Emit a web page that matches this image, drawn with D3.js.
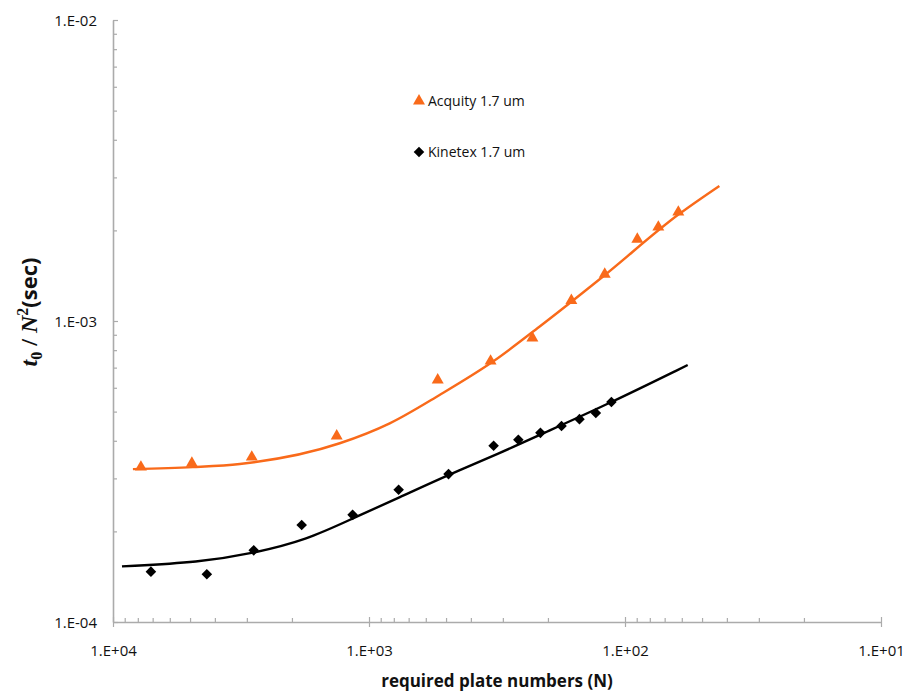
<!DOCTYPE html>
<html>
<head>
<meta charset="utf-8">
<script src="https://cdn.jsdelivr.net/npm/d3@7"></script>
<style>
  html, body { margin: 0; padding: 0; background: #fff; }
  svg { display: block; }
</style>
</head>
<body>
<svg id="chart" width="906" height="693"></svg>
<script>
// ---- data ----
const xTickValues = [1e4, 1e3, 1e2, 1e1];
const xTickLabels = ["1.E+04", "1.E+03", "1.E+02", "1.E+01"];
const yTickValues = [1e-4, 1e-3, 1e-2];
const yTickLabels = ["1.E-04", "1.E-03", "1.E-02"];

// Acquity 1.7 um measured points: N, t0/N^2
const acquityN = [7780, 4920, 2870, 1337, 539, 335, 230, 162, 120, 89.5, 74.1, 61.9];
const acquityY = [3.27e-4, 3.37e-4, 3.53e-4, 4.15e-4, 6.37e-4, 7.36e-4, 8.78e-4, 1.17e-3, 1.43e-3, 1.87e-3, 2.05e-3, 2.30e-3];
// Acquity fitted curve
const acquityFitN = [8360, 4875, 3196, 1301, 830, 530, 329, 216, 122.5, 61.3, 42.8];
const acquityFitY = [3.22e-4, 3.27e-4, 3.35e-4, 3.925e-4, 4.571e-4, 5.68e-4, 7.32e-4, 9.57e-4, 1.40e-3, 2.27e-3, 2.81e-3];

// Kinetex 1.7 um measured points
const kinetexN = [7110, 4300, 2820, 1832, 1159, 766, 489, 326, 261, 214, 177, 150.6, 130, 113];
const kinetexY = [1.47e-4, 1.44e-4, 1.73e-4, 2.10e-4, 2.27e-4, 2.75e-4, 3.10e-4, 3.85e-4, 4.03e-4, 4.25e-4, 4.48e-4, 4.72e-4, 4.95e-4, 5.38e-4];
// Kinetex fitted curve
const kinetexFitN = [9225, 4580, 2843, 1755, 1155, 759, 491.8, 309, 215.8, 113.3, 56.9];
const kinetexFitY = [1.53e-4, 1.58e-4, 1.69e-4, 1.873e-4, 2.211e-4, 2.596e-4, 3.079e-4, 3.635e-4, 4.18e-4, 5.354e-4, 7.14e-4];

const seriesNames = ["Acquity 1.7 um", "Kinetex 1.7 um"];
const xTitle = "required plate numbers (N)";

// ---- layout ----
const svg = d3.select("#chart");
const mLeft = 113, mRight = 881, mTop = 20, mBottom = 622;
const orange = "#F96A1A";
const axisColor = "#ababab";
const font = "'Open Sans', 'Noto Sans', sans-serif";

const x = d3.scaleLog().domain([1e4, 10]).range([mLeft, mRight]);
const y = d3.scaleLog().domain([1e-4, 1e-2]).range([mBottom, mTop]);

function minorTicks(lo, hi) {
  const out = [];
  for (let p = Math.round(Math.log10(lo)); p < Math.round(Math.log10(hi)); p++) {
    for (let k = 2; k <= 9; k++) out.push(k * Math.pow(10, p));
  }
  return out;
}

// x-axis: minor ticks (inward, up)
const gxMinor = svg.append("g").attr("transform", `translate(0,${mBottom})`)
  .call(d3.axisBottom(x).tickValues(minorTicks(10, 1e4)).tickSize(-4).tickFormat(""));
// x-axis: major ticks crossing
const gx = svg.append("g").attr("transform", `translate(0,${mBottom})`)
  .call(d3.axisBottom(x).tickValues(xTickValues).tickSize(5).tickSizeOuter(0)
    .tickFormat((d, i) => xTickLabels[i]));
gx.selectAll(".tick line").attr("y1", -5);
gx.selectAll(".tick text").attr("dy", "0").attr("y", 34)
  .attr("font-family", font).attr("font-size", 15).attr("fill", "#111");

// y-axis minor ticks (inward, right)
const gyMinor = svg.append("g").attr("transform", `translate(${mLeft},0)`)
  .call(d3.axisLeft(y).tickValues(minorTicks(1e-4, 1e-2)).tickSize(-4).tickFormat(""));
const gy = svg.append("g").attr("transform", `translate(${mLeft},0)`)
  .call(d3.axisLeft(y).tickValues(yTickValues).tickSize(-5).tickSizeOuter(0)
    .tickFormat((d, i) => yTickLabels[i]));
gy.selectAll(".tick text").attr("x", -16).attr("dy", "0.35em")
  .attr("font-family", font).attr("font-size", 15).attr("fill", "#111");

[gxMinor, gx, gyMinor, gy].forEach(g => {
  g.selectAll("path.domain").attr("stroke", axisColor).attr("stroke-width", 1.6);
  g.selectAll(".tick line").attr("stroke", axisColor).attr("stroke-width", 1.2);
});
gxMinor.select("path.domain").remove();
gyMinor.select("path.domain").remove();

// ---- fitted lines ----
const lineA = d3.line().x(d => x(d[0])).y(d => y(d[1])).curve(d3.curveMonotoneX);
const lineK = d3.line().x(d => x(d[0])).y(d => y(d[1])).curve(d3.curveBasis);
svg.append("path").datum(acquityFitN.map((n, i) => [n, acquityFitY[i]]))
  .attr("d", lineA).attr("fill", "none").attr("stroke", orange).attr("stroke-width", 2.4);
svg.append("path").datum(kinetexFitN.map((n, i) => [n, kinetexFitY[i]]))
  .attr("d", lineK).attr("fill", "none").attr("stroke", "#000").attr("stroke-width", 2.4);

// ---- markers ----
const tri = d3.symbol().type(d3.symbolTriangle).size(62);
const dia = d3.symbol().type(d3.symbolSquare).size(56);
svg.append("g").selectAll("path").data(acquityN.map((n, i) => [n, acquityY[i]])).join("path")
  .attr("d", tri).attr("fill", orange)
  .attr("transform", d => `translate(${x(d[0])},${y(d[1])})`);
svg.append("g").selectAll("path").data(kinetexN.map((n, i) => [n, kinetexY[i]])).join("path")
  .attr("d", dia).attr("fill", "#000")
  .attr("transform", d => `translate(${x(d[0])},${y(d[1])}) rotate(45)`);

// ---- legend ----
const leg = svg.append("g");
leg.append("path").attr("d", tri).attr("fill", orange).attr("transform", "translate(419,101)");
leg.append("text").attr("x", 428).attr("y", 101).attr("dy", "0.35em")
  .attr("font-family", font).attr("font-size", 14).attr("fill", "#111").text(seriesNames[0]);
leg.append("path").attr("d", dia).attr("fill", "#000").attr("transform", "translate(419,152) rotate(45)");
leg.append("text").attr("x", 428).attr("y", 152).attr("dy", "0.35em")
  .attr("font-family", font).attr("font-size", 14).attr("fill", "#111").text(seriesNames[1]);

// ---- axis titles ----
svg.append("text").attr("x", 497).attr("y", 687).attr("text-anchor", "middle")
  .attr("font-family", font).attr("font-weight", "bold").attr("font-size", 17)
  .attr("fill", "#111").text(xTitle);

const yt = svg.append("text").attr("transform", "translate(37,312) rotate(-90)")
  .attr("text-anchor", "middle").attr("font-family", "'Liberation Serif', 'Times New Roman', serif")
  .attr("font-weight", "bold").attr("font-size", 24).attr("fill", "#111");
yt.append("tspan").attr("font-style", "italic").text("t");
yt.append("tspan").attr("font-size", 16).attr("dy", 5).text("0");
yt.append("tspan").attr("dy", -5).text(" / ");
yt.append("tspan").attr("font-style", "italic").text("N");
yt.append("tspan").attr("font-size", 16).attr("dy", -9).text("2");
yt.append("tspan").attr("dy", 9).attr("font-family", font).attr("font-size", 22).text("(sec)");
</script>
</body>
</html>
